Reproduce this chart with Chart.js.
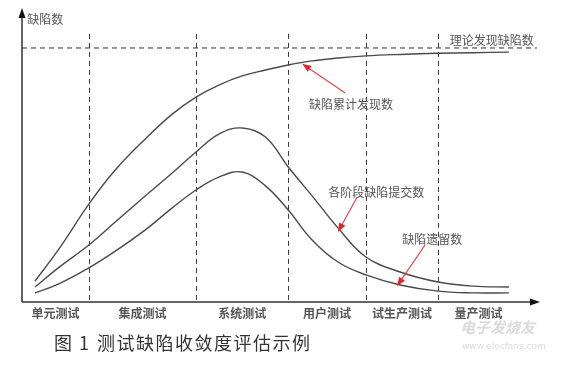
<!DOCTYPE html>
<html>
<head>
<meta charset="utf-8">
<script src="https://cdn.jsdelivr.net/npm/chart.js@4"></script>
<style>
  body { margin: 0; background: #fff; }
</style>
</head>
<body>
<canvas id="myCanvas" width="568" height="365"></canvas>
<script>
'use strict';

// stages along the test timeline (x in progress units, 0..100)
const stageNames = ['单元测试', '集成测试', '系统测试', '用户测试', '试生产测试', '量产测试'];
const stageBounds = [12.9, 33.6, 51.4, 66.4, 80.3];
const stageEnd = 96;

// sample points on the timeline
const timeX = [2.5, 7, 12.9, 18, 24, 29, 33.6, 38, 42.5, 47, 51.4, 56, 61, 66.4, 73, 80.3, 87, 94];

// defect counts (y in 0..100)
const cumulativeFound = [7.1, 17.7, 33.3, 44.9, 55.8, 63.9, 69.7, 73.8, 76.9, 78.9, 80.6, 82.0, 83.0, 83.7, 84.2, 84.6, 84.8, 85.0];
const stageSubmitted = [5.1, 11.6, 19.4, 27.2, 36.4, 43.9, 51.0, 57.1, 59.2, 56.1, 45.9, 36.1, 25.2, 15.3, 10.2, 6.8, 5.4, 5.1];
const remaining = [3.1, 6.1, 11.6, 17.3, 24.8, 32.0, 38.1, 42.5, 44.2, 39.5, 31.3, 21.1, 13.6, 9.2, 5.8, 3.7, 3.1, 3.1];
const theoryLevel = 86.4;
const dividerTop = 91.2;

const cjk = '"Noto Sans CJK SC", "Noto Sans", sans-serif';

function toPoints(values) {
  return values.map((v, i) => ({ x: timeX[i], y: v }));
}

function curve(values) {
  return {
    data: toPoints(values),
    borderColor: '#4a4a4a',
    borderWidth: 1.4,
    pointRadius: 0,
    tension: 0.4,
    fill: false
  };
}

// red annotation arrows: [label, textX, textY, tailX, tailY, tipX, tipY]
const notes = [
  ['缺陷累计发现数', 55.4, 67.3, 62.4, 71.1, 54.1, 81.0],
  ['各阶段缺陷提交数', 59.1, 37.4, 64.7, 35.7, 61.0, 23.8],
  ['缺陷遗留数', 73.4, 21.4, 77.8, 19.4, 72.4, 5.4]
];

function arrowHead(ctx, x1, y1, x2, y2, len, half) {
  const a = Math.atan2(y2 - y1, x2 - x1);
  ctx.beginPath();
  ctx.moveTo(x2, y2);
  ctx.lineTo(x2 - len * Math.cos(a) + half * Math.sin(a), y2 - len * Math.sin(a) - half * Math.cos(a));
  ctx.lineTo(x2 - len * Math.cos(a) - half * Math.sin(a), y2 - len * Math.sin(a) + half * Math.cos(a));
  ctx.closePath();
  ctx.fill();
}

const decor = {
  id: 'decor',
  beforeDatasetsDraw(chart) {
    const ctx = chart.ctx;
    const xs = chart.scales.x;
    const ys = chart.scales.y;
    const bottom = ys.getPixelForValue(0);
    const left = xs.getPixelForValue(0);
    ctx.save();
    // stage dividers
    ctx.strokeStyle = '#3a3a3a';
    ctx.lineWidth = 1;
    ctx.setLineDash([5, 4]);
    stageBounds.forEach(b => {
      const px = Math.round(xs.getPixelForValue(b)) + 0.5;
      ctx.beginPath();
      ctx.moveTo(px, ys.getPixelForValue(dividerTop));
      ctx.lineTo(px, bottom);
      ctx.stroke();
    });
    ctx.setLineDash([]);
    // axes with arrows
    ctx.strokeStyle = '#333';
    ctx.fillStyle = '#111';
    ctx.lineWidth = 1.5;
    const top = ys.getPixelForValue(100);
    const right = xs.getPixelForValue(100);
    ctx.beginPath();
    ctx.moveTo(left, bottom);
    ctx.lineTo(left, top + 6);
    ctx.moveTo(left, bottom);
    ctx.lineTo(right - 6, bottom);
    ctx.stroke();
    arrowHead(ctx, left, bottom, left, top, 10, 3.5);
    arrowHead(ctx, left, bottom, right, bottom, 10, 3.5);

    // category labels
    ctx.fillStyle = '#555';
    ctx.font = 'bold 12px ' + cjk;
    ctx.textAlign = 'center';
    ctx.textBaseline = 'middle';
    const edges = [0].concat(stageBounds, [stageEnd]);
    stageNames.forEach((name, i) => {
      ctx.fillText(name, xs.getPixelForValue((edges[i] + edges[i + 1]) / 2), bottom + 11);
    });
    ctx.restore();
  },
  afterDatasetsDraw(chart) {
    const ctx = chart.ctx;
    const xs = chart.scales.x;
    const ys = chart.scales.y;
    ctx.save();
    ctx.textBaseline = 'middle';
    ctx.textAlign = 'left';
    ctx.fillStyle = '#555';
    ctx.font = '12px ' + cjk;
    ctx.fillText('缺陷数', xs.getPixelForValue(1), ys.getPixelForValue(96.2));
    ctx.fillText('理论发现缺陷数', xs.getPixelForValue(82.6), ys.getPixelForValue(89.1));

    notes.forEach(n => {
      ctx.fillStyle = '#555';
      ctx.fillText(n[0], xs.getPixelForValue(n[1]), ys.getPixelForValue(n[2]));
      const x1 = xs.getPixelForValue(n[3]);
      const y1 = ys.getPixelForValue(n[4]);
      const x2 = xs.getPixelForValue(n[5]);
      const y2 = ys.getPixelForValue(n[6]);
      ctx.strokeStyle = '#e0474c';
      ctx.fillStyle = '#e3262d';
      ctx.lineWidth = 1.2;
      const a = Math.atan2(y2 - y1, x2 - x1);
      ctx.beginPath();
      ctx.moveTo(x1, y1);
      ctx.lineTo(x2 - 6 * Math.cos(a), y2 - 6 * Math.sin(a));
      ctx.stroke();
      arrowHead(ctx, x1, y1, x2, y2, 9, 3.5);
    });

    // caption
    ctx.fillStyle = '#333';
    ctx.font = '18px ' + cjk;
    ctx.letterSpacing = '1.5px';
    ctx.fillText('图 1', 54, 343);
    ctx.fillText('测试缺陷收敛度评估示例', 97, 343);
    ctx.letterSpacing = '0px';

    // faint watermark
    ctx.fillStyle = 'rgba(150,150,150,0.35)';
    ctx.font = 'italic bold 15px ' + cjk;
    ctx.fillText('电子发烧友', 460, 327);
    ctx.font = '9px "DejaVu Sans", sans-serif';
    ctx.fillText('www.elecfans.com', 462, 347);
    ctx.restore();
  }
};

const data = {
  datasets: [
    curve(cumulativeFound),
    curve(stageSubmitted),
    curve(remaining),
    {
      data: [{ x: 0, y: theoryLevel }, { x: 99.4, y: theoryLevel }],
      borderColor: '#2f2f2f',
      borderWidth: 1,
      borderDash: [5, 4],
      pointRadius: 0,
      tension: 0,
      fill: false
    }
  ]
};

const config = {
  type: 'line',
  data: data,
  options: {
    responsive: false,
    animation: false,
    layout: {
      padding: { left: 22, right: 28, top: 8, bottom: 63 }
    },
    plugins: {
      legend: { display: false },
      tooltip: { enabled: false }
    },
    scales: {
      x: { type: 'linear', min: 0, max: 100, display: false },
      y: { min: 0, max: 100, display: false }
    }
  },
  plugins: [decor]
};

const myChart = new Chart(document.getElementById('myCanvas'), config);
</script>
</body>
</html>
